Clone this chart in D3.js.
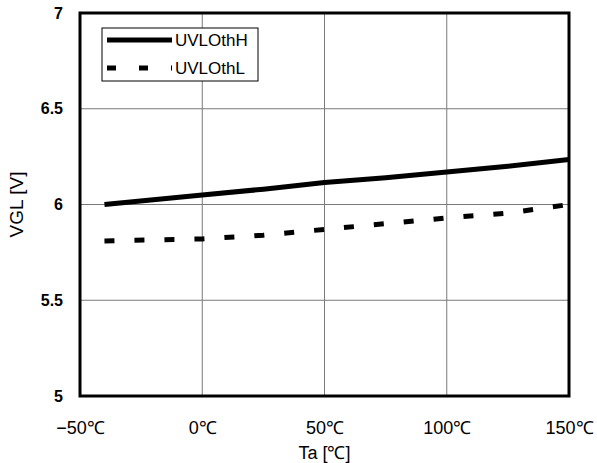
<!DOCTYPE html>
<html>
<head>
<meta charset="utf-8">
<script src="https://cdn.jsdelivr.net/npm/d3@7"></script>
<style>
  body { margin: 0; background: #fff; }
  text { font-family: "Liberation Sans", Arial, sans-serif; fill: #000; }
</style>
</head>
<body>
<svg id="chart" width="597" height="463"></svg>
<script>
// data
const temps = [-40, 0, 25, 50, 75, 100, 125, 150];
const uvloH = [6.0, 6.05, 6.08, 6.115, 6.14, 6.17, 6.2, 6.235];
const uvloL = [5.81, 5.82, 5.84, 5.87, 5.9, 5.93, 5.955, 6.0];
const xTicks = [-50, 0, 50, 100, 150];
const yTicks = [5, 5.5, 6, 6.5, 7];
const seriesNames = ["UVLOthH", "UVLOthL"];

const margin = { left: 80, top: 13, right: 28, bottom: 67 };
const width = 597 - margin.left - margin.right;
const height = 463 - margin.top - margin.bottom;

const svg = d3.select("#chart")
  .append("g")
  .attr("transform", "translate(" + margin.left + "," + margin.top + ")");

const x = d3.scaleLinear().domain([-50, 150]).range([0, width]);
const y = d3.scaleLinear().domain([5, 7]).range([height, 0]);

// grid
svg.append("g")
  .selectAll("line")
  .data(xTicks.slice(1, -1))
  .enter().append("line")
  .attr("x1", d => x(d)).attr("x2", d => x(d))
  .attr("y1", 0).attr("y2", height)
  .attr("stroke", "#7a7a7a").attr("stroke-width", 1);
svg.append("g")
  .selectAll("line")
  .data(yTicks.slice(1, -1))
  .enter().append("line")
  .attr("x1", 0).attr("x2", width)
  .attr("y1", d => y(d)).attr("y2", d => y(d))
  .attr("stroke", "#7a7a7a").attr("stroke-width", 1);

// axes (labels only)
const xAxis = d3.axisBottom(x).tickValues(xTicks).tickSize(0).tickPadding(25)
  .tickFormat(d => (d < 0 ? "\u2212" + Math.abs(d) : d) + "\u2103");
const yAxis = d3.axisLeft(y).tickValues(yTicks).tickSize(0).tickPadding(17)
  .tickFormat(d => d);

const gx = svg.append("g").attr("transform", "translate(0," + height + ")").call(xAxis);
gx.select(".domain").remove();
gx.selectAll("text").style("font-size", "18px");

const gy = svg.append("g").call(yAxis);
gy.select(".domain").remove();
gy.selectAll("text").style("font-size", "16px").style("font-weight", "bold");

svg.append("text")
  .attr("transform", "rotate(-90)")
  .attr("x", -y(6))
  .attr("y", -57)
  .style("text-anchor", "middle")
  .style("font-size", "19px")
  .text("VGL [V]");
svg.append("text")
  .attr("x", x(50))
  .attr("y", height + 63)
  .style("text-anchor", "middle")
  .style("font-size", "18px")
  .text("Ta [\u2103]");

// lines
const line = vals => d3.line()
  .x((d, i) => x(temps[i]))
  .y(d => y(d))(vals);

svg.append("path")
  .attr("d", line(uvloH))
  .attr("fill", "none")
  .attr("stroke", "#000")
  .attr("stroke-width", 5);
svg.append("path")
  .attr("d", line(uvloL))
  .attr("fill", "none")
  .attr("stroke", "#000")
  .attr("stroke-width", 5)
  .attr("stroke-dasharray", "10,20");

// frame
svg.append("rect")
  .attr("x", 0).attr("y", 0)
  .attr("width", width).attr("height", height)
  .attr("fill", "none")
  .attr("stroke", "#000")
  .attr("stroke-width", 3);

// legend
const legend = svg.append("g").attr("transform", "translate(22,15)");
legend.append("rect")
  .attr("width", 156).attr("height", 53)
  .attr("fill", "#fff")
  .attr("stroke", "#000")
  .attr("stroke-width", 1);
legend.selectAll(".leg-line")
  .data(seriesNames)
  .enter().append("line")
  .attr("x1", 5).attr("x2", 70)
  .attr("y1", (d, i) => 12 + i * 28).attr("y2", (d, i) => 12 + i * 28)
  .attr("stroke", "#000")
  .attr("stroke-width", 5)
  .attr("stroke-dasharray", (d, i) => i === 0 ? null : "9,23");
legend.selectAll(".leg-text")
  .data(seriesNames)
  .enter().append("text")
  .attr("x", 73)
  .attr("y", (d, i) => 18 + i * 28)
  .style("font-size", "17px")
  .text(d => d);
</script>
</body>
</html>
